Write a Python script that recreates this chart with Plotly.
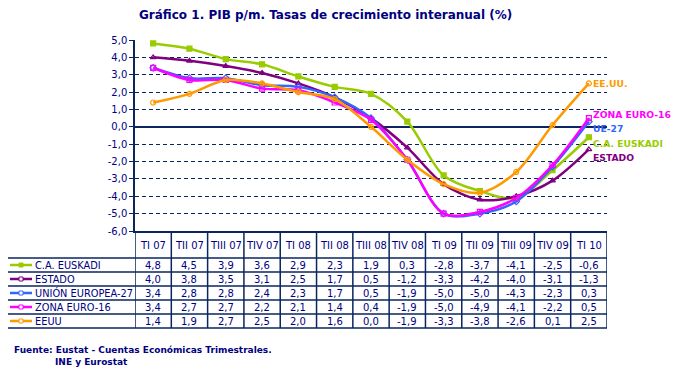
import plotly.graph_objects as go

categories = ['TI 07', 'TII 07', 'TIII 07', 'TIV 07', 'TI 08', 'TII 08', 'TIII 08',
              'TIV 08', 'TI 09', 'TII 09', 'TIII 09', 'TIV 09', 'TI 10']
euskadi = [4.8, 4.5, 3.9, 3.6, 2.9, 2.3, 1.9, 0.3, -2.8, -3.7, -4.1, -2.5, -0.6]
estado = [4.0, 3.8, 3.5, 3.1, 2.5, 1.7, 0.5, -1.2, -3.3, -4.2, -4.0, -3.1, -1.3]
ue27 = [3.4, 2.8, 2.8, 2.4, 2.3, 1.7, 0.5, -1.9, -5.0, -5.0, -4.3, -2.3, 0.3]
zona_euro = [3.4, 2.7, 2.7, 2.2, 2.1, 1.4, 0.4, -1.9, -5.0, -4.9, -4.1, -2.2, 0.5]
eeuu = [1.4, 1.9, 2.7, 2.5, 2.0, 1.6, 0.0, -1.9, -3.3, -3.8, -2.6, 0.1, 2.5]

series_names = ['C.A. EUSKADI', 'ESTADO', 'UNIÓN EUROPEA-27', 'ZONA EURO-16', 'EEUU']
end_labels = ['C.A. EUSKADI', 'ESTADO', 'UE-27', 'ZONA EURO-16', 'EE.UU.']
series_values = [euskadi, estado, ue27, zona_euro, eeuu]
y_ticks = [-6, -5, -4, -3, -2, -1, 0, 1, 2, 3, 4, 5]

colors = ['#99CC00', '#800080', '#3366FF', '#FF00FF', '#FF9900']
symbols = ['square', 'triangle-up-open', 'diamond-open', 'square-open', 'circle-open']
end_yshift = [-6, -8, -7, 4, 0]
NAVY = '#000080'
LINE = '#0A2560'
FONT = 'DejaVu Sans'

OFF = 8  # page body margin
FW, FH = 680, 370
# plot area in screen pixels
L, R, T, B = 135, 607, 40, 231
W, H = R - L, B - T


def px(xp):
    return (xp - L) / W


def py(yp):
    return (B - yp) / H


def fmt(v):
    return f'{v:.1f}'.replace('.', ',')


x_idx = list(range(len(categories)))
fig = go.Figure()
for name, vals, c, s in zip(series_names, series_values, colors, symbols):
    fig.add_trace(go.Scatter(
        x=x_idx, y=vals, mode='lines+markers', name=name,
        line=dict(color=c, width=2.5, shape='spline', smoothing=0.9),
        marker=dict(symbol=s, size=5, color=c, line=dict(color=c, width=1.2)),
        showlegend=False))

ann = []
shapes = []
# end labels
for lab, vals, c, ys in zip(end_labels, series_values, colors, end_yshift):
    ann.append(dict(x=x_idx[-1], y=vals[-1], xref='x', yref='y', text=f'<b>{lab}</b>',
                    showarrow=False, xanchor='left', yanchor='middle', xshift=2, yshift=ys,
                    font=dict(family=FONT, size=9.2, color=c)))

# table
header_top, header_bot = 231, 258
row_h = 14
table_left = 7
n_rows = len(series_names)
for i in range(len(categories) + 1):
    shapes.append(dict(type='line', xref='x', yref='paper', x0=i - 0.5, x1=i - 0.5,
                       y0=py(header_top), y1=py(header_bot + row_h * n_rows),
                       line=dict(color=LINE, width=1.5)))
shapes.append(dict(type='line', xref='paper', yref='paper', x0=px(table_left), x1=px(table_left),
                   y0=py(header_bot), y1=py(header_bot + row_h * n_rows),
                   line=dict(color=LINE, width=1.5)))
for r in range(n_rows + 1):
    yy = py(header_bot + r * row_h)
    shapes.append(dict(type='line', xref='paper', yref='paper', x0=px(table_left), x1=1,
                       y0=yy, y1=yy, line=dict(color=LINE, width=1.5)))

for i, cat in enumerate(categories):
    ann.append(dict(x=i, y=py((header_top + header_bot) / 2 + 1), xref='x', yref='paper', text=cat,
                    showarrow=False, yanchor='middle',
                    font=dict(family=FONT, size=10, color=NAVY)))

for r, (name, vals, c, s) in enumerate(zip(series_names, series_values, colors, symbols)):
    yc = py(header_bot + r * row_h + row_h / 2)
    for i, v in enumerate(vals):
        ann.append(dict(x=i, y=yc, xref='x', yref='paper', text=fmt(v), showarrow=False,
                        yanchor='middle', font=dict(family=FONT, size=10, color=NAVY)))
    ann.append(dict(x=px(33), y=yc, xref='paper', yref='paper', text=name, showarrow=False,
                    xanchor='left', yanchor='middle', font=dict(family=FONT, size=9.8, color=NAVY)))
    shapes.append(dict(type='line', xref='paper', yref='paper', x0=px(10), x1=px(32),
                       y0=yc, y1=yc, line=dict(color=c, width=2.5)))
    shapes.append(dict(type='rect', xref='paper', yref='paper', x0=px(19), x1=px(23),
                       y0=yc - 2 / H, y1=yc + 2 / H, line=dict(color=c, width=1),
                       fillcolor=c if r == 0 else 'white'))

# title and source
ann.append(dict(x=px(325), y=py(14.5), xref='paper', yref='paper', showarrow=False,
                yanchor='middle',
                text='<b>Gráfico 1. PIB p/m. Tasas de crecimiento interanual (%)</b>',
                font=dict(family=FONT, size=12, color=NAVY)))
ann.append(dict(x=px(12), y=py(350), xref='paper', yref='paper', xanchor='left', showarrow=False,
                yanchor='middle',
                text='<b>Fuente: Eustat - Cuentas Económicas Trimestrales.</b>',
                font=dict(family=FONT, size=9, color=NAVY)))
ann.append(dict(x=px(53), y=py(362), xref='paper', yref='paper', xanchor='left', showarrow=False,
                yanchor='middle', text='<b>INE y Eurostat</b>',
                font=dict(family=FONT, size=9, color=NAVY)))

fig.update_layout(
    width=FW, height=FH,
    margin=dict(l=L - OFF, r=FW - (R - OFF), t=T - OFF, b=FH - (B - OFF), pad=0),
    paper_bgcolor='white', plot_bgcolor='white',
    annotations=ann, shapes=shapes,
    xaxis=dict(range=[-0.5, len(categories) - 0.5], showgrid=False, zeroline=False,
               showticklabels=False, showline=True, linecolor=LINE, linewidth=1.5, ticks=''),
    yaxis=dict(range=[-6, 5], tickvals=y_ticks, ticktext=[fmt(v) for v in y_ticks],
               showgrid=False, zeroline=True, zerolinecolor=LINE, zerolinewidth=1.5,
               showline=True, linecolor=LINE, linewidth=1.5, ticks='outside', ticklen=4,
               tickcolor=LINE, tickfont=dict(family=FONT, size=10, color=NAVY),
               minor=dict(tickvals=[v for v in y_ticks if v not in (0, -6, 5)], showgrid=True,
                          gridcolor=LINE, griddash='4px,3px', gridwidth=1, ticks='')),
    font=dict(family=FONT, color=NAVY),
)
fig.write_html('out.html')
